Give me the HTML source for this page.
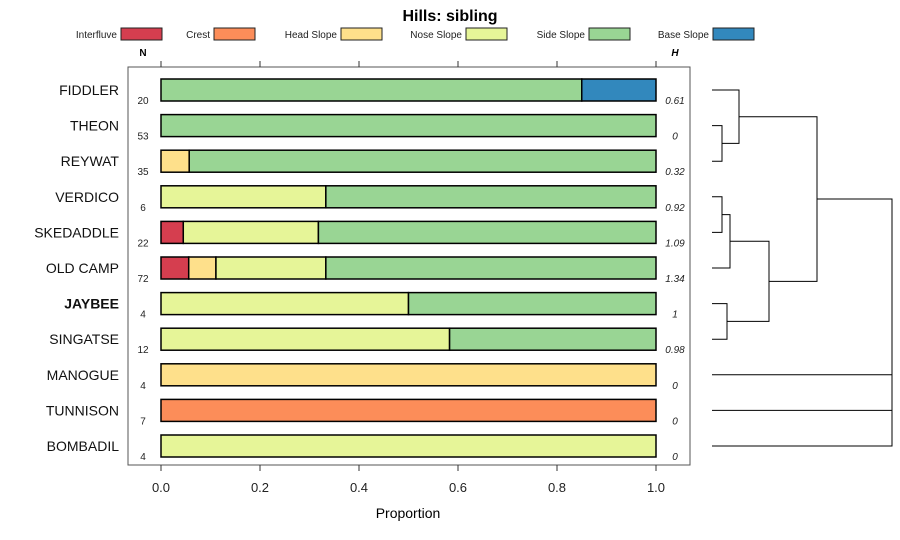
<!DOCTYPE html>
<html><head><meta charset="utf-8">
<style>
body{margin:0;background:#fff;}
svg{display:block;font-family:"Liberation Sans",sans-serif;}
</style></head>
<body>
<svg id="chart" width="900" height="540" viewBox="0 0 900 540" xmlns="http://www.w3.org/2000/svg">
<text x="450" y="21" text-anchor="middle" font-size="16" font-weight="bold">Hills: sibling</text>
<g id="legend"></g>
<rect x="128" y="67" width="562" height="398" fill="none" stroke="#555" stroke-width="1"/>
<g id="axis"></g>
<text x="408" y="518" text-anchor="middle" font-size="14">Proportion</text>
<text x="143" y="56" text-anchor="middle" font-size="10" font-weight="bold">N</text>
<text x="675" y="56" text-anchor="middle" font-size="10" font-weight="bold" font-style="italic">H</text>
<g id="bars"></g>
<g id="dendro" stroke="#000" stroke-width="1" fill="none"></g>
</svg>
<script>
const categories = ["Interfluve","Crest","Head Slope","Nose Slope","Side Slope","Base Slope"];
const colors = ["#D53E4F","#FC8D59","#FEE08B","#E6F598","#99D594","#3288BD"];
const rows = ["FIDDLER","THEON","REYWAT","VERDICO","SKEDADDLE","OLD CAMP","JAYBEE","SINGATSE","MANOGUE","TUNNISON","BOMBADIL"];
const nVals = [20,53,35,6,22,72,4,12,4,7,4];
const hVals = ["0.61","0","0.32","0.92","1.09","1.34","1","0.98","0","0","0"];
const interfluve = [0,0,0,0,0.045,0.056,0,0,0,0,0];
const crest      = [0,0,0,0,0,0,0,0,0,1,0];
const headSlope  = [0,0,0.057,0,0,0.055,0,0,1,0,0];
const noseSlope  = [0,0,0,0.333,0.273,0.222,0.5,0.583,0,0,1];
const sideSlope  = [0.85,1,0.943,0.667,0.682,0.667,0.5,0.417,0,0,0];
const baseSlope  = [0.15,0,0,0,0,0,0,0,0,0,0];
const ticks = [0,0.2,0.4,0.6,0.8,1.0];
const tickLabels = ["0.0","0.2","0.4","0.6","0.8","1.0"];
const boldRow = "JAYBEE";
// dendrogram merges: [a, b, height] ; leaves are row indices, clusters are "c"+k
const merges = [
 [1,2,0.10],[3,4,0.10],["c1",5,0.18],[6,7,0.15],["c0",0,0.27],["c2","c3",0.57],["c4","c5",1.05],["c6",8,1.8],["c7",9,1.8],["c8",10,1.8]
];

const NS="http://www.w3.org/2000/svg";
function el(tag, attrs, parent, text){const e=document.createElementNS(NS,tag);for(const k in attrs)e.setAttribute(k,attrs[k]);if(text!==undefined)e.textContent=text;parent.appendChild(e);return e;}
const xs = v => 161 + v*495;
const ys = i => 90 + i*35.6;
const dx = h => 712 + h*100;

// legend
const lg=document.getElementById('legend');
const swX=[121,214,341,466,589,713];
categories.forEach((c,i)=>{
  const t=el('text',{x:swX[i]-4,y:38,'text-anchor':'end','font-size':10,fill:'#222'},lg,c);
  
  
  const r=el('rect',{x:swX[i],y:28,width:41,height:12,fill:colors[i],stroke:'#222','stroke-width':1},lg);
  
  
});

// axis
const ax=document.getElementById('axis');
ticks.forEach((t,i)=>{
  el('line',{x1:xs(t),x2:xs(t),y1:61,y2:67,stroke:'#333'},ax);
  el('line',{x1:xs(t),x2:xs(t),y1:465,y2:471,stroke:'#333'},ax);
  const tl=el('text',{x:xs(t),y:492,'text-anchor':'middle','font-size':13,fill:'#222'},ax,tickLabels[i]);
  
  
});

// bars
const bg=document.getElementById('bars');
const series=[interfluve,crest,headSlope,noseSlope,sideSlope,baseSlope];
rows.forEach((r,i)=>{
  const y=ys(i);
  const lab=el('text',{x:119,y:y+5,'text-anchor':'end','font-size':14,'font-weight':r===boldRow?'bold':'normal',fill:'#111'},bg,r);
  
  
  const n=el('text',{x:143,y:y+14,'text-anchor':'middle','font-size':10,fill:'#222'},bg,nVals[i]);
  
  
  const h=el('text',{x:675,y:y+14,'text-anchor':'middle','font-size':10,'font-style':'italic',fill:'#222'},bg,hVals[i]);
  
  
  let cum=0;
  series.forEach((s,k)=>{
    const v=s[i]; if(v<=0) return;
    const seg=el('rect',{x:xs(cum),y:y-11,width:xs(cum+v)-xs(cum),height:22,fill:colors[k],stroke:'#000','stroke-width':1.5},bg);
    
    
    cum+=v;
  });
});

// dendrogram
const dg=document.getElementById('dendro');
const nodes={};
function pos(id){ if(typeof id==='number') return {x:712,y:ys(id)}; return nodes[id]; }
merges.forEach((m,k)=>{
  const a=pos(m[0]), b=pos(m[1]), hx=dx(m[2]);
  const p=el('path',{d:`M${a.x},${a.y}H${hx}V${b.y}H${b.x}`},dg);
  
  
  nodes['c'+k]={x:hx,y:(a.y+b.y)/2};
});
</script>
</body></html>
